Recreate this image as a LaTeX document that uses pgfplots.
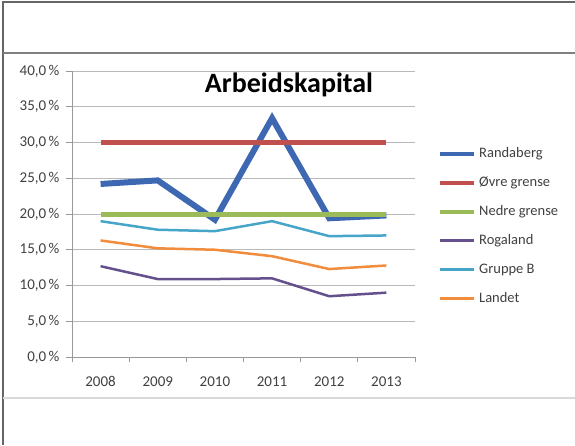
\documentclass[border=0pt]{standalone}
\usepackage{fontspec}
\setmainfont{Carlito}
\usepackage{pgfplots}
\pgfplotsset{compat=1.18}
\definecolor{cRand}{RGB}{62,104,178}
\definecolor{cOvre}{RGB}{192,80,77}
\definecolor{cNedre}{RGB}{155,187,89}
\definecolor{cRoga}{RGB}{100,80,140}
\definecolor{cGrup}{RGB}{70,165,200}
\definecolor{cLand}{RGB}{240,140,60}
\definecolor{tickgray}{RGB}{64,64,64}
\begin{document}
\begin{tikzpicture}
\path[use as bounding box] (0,0) rectangle (575pt,445pt);
% frame
\draw[line width=2pt, gray!80!black] (3pt,0pt) -- (3pt,443pt) -- (575pt,443pt);
\draw[line width=1.5pt, gray] (3pt,392pt) -- (575pt,392pt);
\draw[line width=1.2pt, gray!30] (3pt,47pt) -- (575pt,47pt);
\begin{axis}[
  scale only axis,
  width=343pt, height=286pt,
  at={(72pt,88pt)}, anchor=south west,
  xmin=-0.5, xmax=5.5, ymin=0, ymax=40,
  axis x line*=bottom, axis y line*=left,
  axis line style={-, gray!80, line width=0.8pt},
  xtick={0,...,5},
  xticklabels={2008,2009,2010,2011,2012,2013},
  minor xtick={-0.5,0.5,...,5.5},
  major x tick style={draw=none},
  minor tick length=5pt,
  tick align=outside,
  major tick length=6pt,
  tick style={gray!80, line width=0.8pt},
  ytick={0,5,...,40},
  ymajorgrids,
  grid style={gray!55, line width=0.8pt},
  yticklabel={\pgfmathprintnumber[fixed,fixed zerofill,precision=1,use comma,assume math mode=true]{\tick}\,\%},
  ticklabel style={font=\fontsize{15}{18}\selectfont, text=tickgray},
  xticklabel style={yshift=-10pt},
  yticklabel style={xshift=-3pt},
  legend style={draw=none, fill=none, at={(1,0.458)}, anchor=west, xshift=23pt,
    inner xsep=0pt, inner ysep=0pt, row sep=16pt,
    font=\fontsize{14.5}{16}\selectfont, text=tickgray,
    nodes={inner sep=0pt, text height=10pt, text depth=3pt},
    /tikz/every odd column/.style={column sep=3pt}},
  legend cell align=left,
]
\addplot[cRand, line width=6pt, legend image code/.code={\draw[cRand, line width=4pt] (0pt,0pt) -- (34pt,0pt);}] coordinates {(0,24.2) (1,24.7) (2,19.2) (3,33.4) (4,19.4) (5,19.8)};
\addlegendentry{Randaberg}
\addplot[cOvre, line width=5.5pt, legend image code/.code={\draw[cOvre, line width=4pt] (0pt,0pt) -- (34pt,0pt);}] coordinates {(0,30) (1,30) (2,30) (3,30) (4,30) (5,30)};
\addlegendentry{Øvre grense}
\addplot[cNedre, line width=5pt, legend image code/.code={\draw[cNedre, line width=4pt] (0pt,0pt) -- (34pt,0pt);}] coordinates {(0,20) (1,20) (2,20) (3,20) (4,20) (5,20)};
\addlegendentry{Nedre grense}
\addplot[cRoga, line width=2.5pt, legend image code/.code={\draw[cRoga, line width=2.5pt] (0pt,0pt) -- (34pt,0pt);}] coordinates {(0,12.7) (1,10.9) (2,10.9) (3,11.0) (4,8.5) (5,9.0)};
\addlegendentry{Rogaland}
\addplot[cGrup, line width=2.5pt, legend image code/.code={\draw[cGrup, line width=2.5pt] (0pt,0pt) -- (34pt,0pt);}] coordinates {(0,19.0) (1,17.8) (2,17.6) (3,19.0) (4,16.9) (5,17.0)};
\addlegendentry{Gruppe B}
\addplot[cLand, line width=2.5pt, legend image code/.code={\draw[cLand, line width=2.5pt] (0pt,0pt) -- (34pt,0pt);}] coordinates {(0,16.3) (1,15.2) (2,15.0) (3,14.1) (4,12.3) (5,12.8)};
\addlegendentry{Landet}
\end{axis}
\node[font=\bfseries\fontsize{28}{32}\selectfont] at (289pt,360pt) {Arbeidskapital};
\end{tikzpicture}
\end{document}
